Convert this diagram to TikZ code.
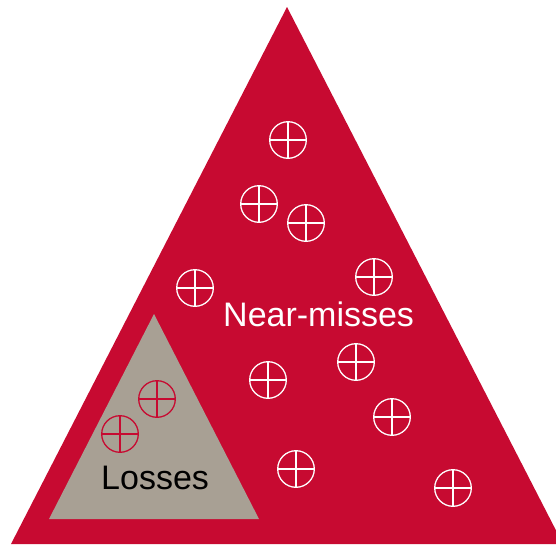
\documentclass[tikz,border=0pt]{standalone}
\usepackage{fontspec}
\setmainfont{Liberation Sans}
\definecolor{nmred}{RGB}{199,10,49}
\definecolor{lossgray}{RGB}{168,160,148}
\tikzset{
  xh/.style={line width=1.3pt},
  lbl/.style={inner sep=0pt, anchor=base west, font=\fontsize{34}{40}\selectfont}
}
\newcommand{\crosshair}[3]{%
  \draw[xh,#3] (#1,#2) circle (18.3);
  \draw[xh,#3] (#1-18.3,#2) -- (#1+18.3,#2);
  \draw[xh,#3] (#1,#2-18.3) -- (#1,#2+18.3);
}
\begin{document}
\begin{tikzpicture}[x=1pt,y=-1pt]
\useasboundingbox (0,0) rectangle (556,544);
\begin{scope}
\clip (0,0) rectangle (556,544);
\fill[nmred] (287,7) -- (563,544) -- (11,544) -- cycle;
\end{scope}
\fill[lossgray] (154,314) -- (259,519) -- (49,519) -- cycle;
\crosshair{288}{140}{white}
\crosshair{259}{204}{white}
\crosshair{306}{223}{white}
\crosshair{374}{277}{white}
\crosshair{195}{288}{white}
\crosshair{356}{362}{white}
\crosshair{268}{380}{white}
\crosshair{392}{417}{white}
\crosshair{296}{469}{white}
\crosshair{453}{488}{white}
\crosshair{157}{399}{nmred}
\crosshair{120}{434}{nmred}
\node[lbl, text=white] (nm) at (223,326) {Near-misses};
\node[lbl, text=black] (ls) at (101,489) {Losses};
\end{tikzpicture}
\end{document}
